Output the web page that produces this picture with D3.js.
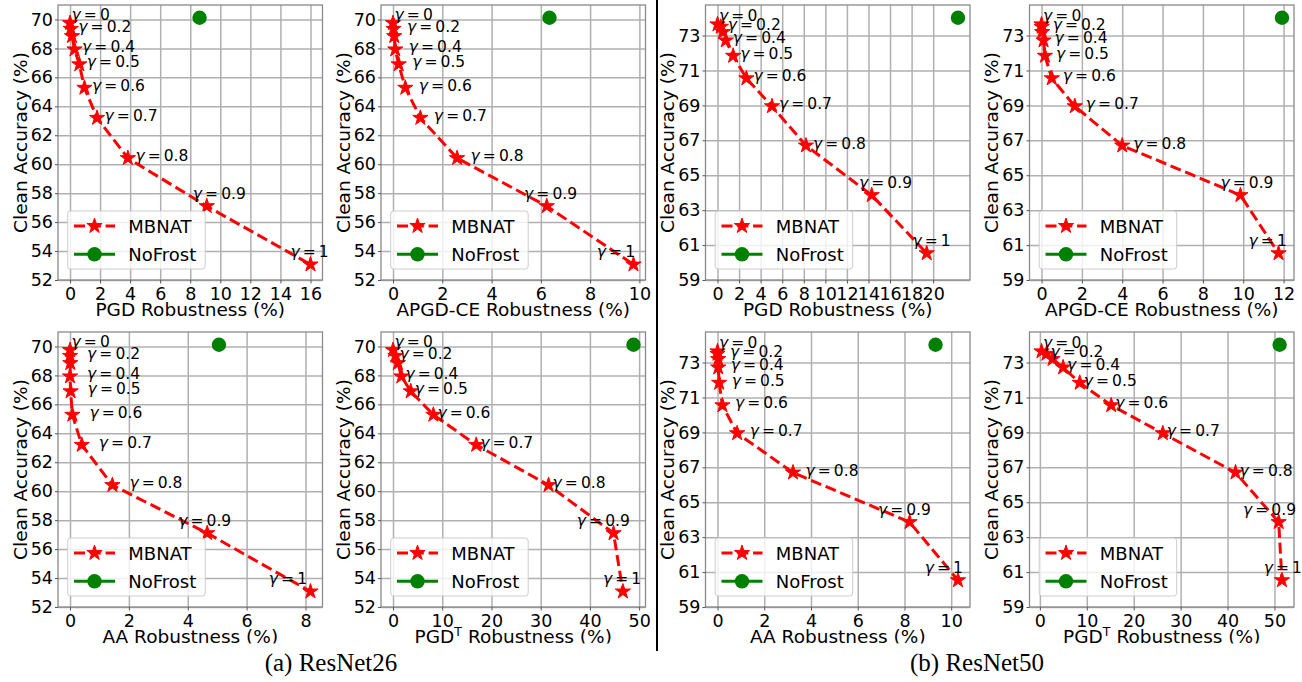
<!DOCTYPE html>
<html>
<head>
<meta charset="utf-8">
<script src="https://cdn.jsdelivr.net/npm/d3@7"></script>
<style>
  body { margin: 0; background: #fff; }
  svg { display: block; font-family: 'DejaVu Sans', sans-serif; }
</style>
</head>
<body>
<svg id="chart" width="1302" height="682"></svg>
<script>
// gamma values of the MBNAT sweep (one point is left unlabelled in the figure)
const gammas = [0, 0.2, 0.3, 0.4, 0.5, 0.6, 0.7, 0.8, 0.9, 1];
const gammaLabels = ['0', '0.2', '', '0.4', '0.5', '0.6', '0.7', '0.8', '0.9', '1'];

// clean accuracy (%)
const r26Clean = [69.75, 69.35, 68.85, 67.93, 66.9, 65.28, 63.2, 60.42, 57.1, 53.07];
const r50Clean = [73.64, 73.5, 73.2, 72.72, 71.84, 70.55, 68.95, 66.7, 63.86, 60.53];
const r26NoFrostClean = 70.12;
const r50NoFrostClean = 74.02;

// robustness (%) of MBNAT
const r26Pgd = [0.0, 0.05, 0.13, 0.3, 0.62, 0.96, 1.8, 3.85, 9.1, 16.0];
const r26Apgd = [0.0, 0.02, 0.05, 0.09, 0.23, 0.5, 1.11, 2.6, 6.24, 9.76];
const r26Aa = [0.0, 0.0, 0.01, 0.0, 0.02, 0.08, 0.4, 1.44, 4.66, 8.17];
const r26PgdT = [0.0, 0.5, 1.0, 1.7, 3.6, 8.2, 16.9, 31.6, 44.8, 46.7];
const r50Pgd = [0.0, 0.3, 0.5, 0.77, 1.45, 2.68, 5.05, 8.2, 14.3, 19.4];
const r50Apgd = [0.0, 0.01, 0.03, 0.1, 0.17, 0.51, 1.65, 4.0, 9.86, 11.75];
const r50Aa = [0.0, 0.0, 0.03, 0.03, 0.07, 0.21, 0.84, 3.23, 8.22, 10.29];
const r50PgdT = [0.35, 1.4, 2.7, 4.95, 8.5, 15.2, 26.2, 41.7, 50.9, 51.6];

// robustness (%) of NoFrost: PGD, APGD-CE, AA, PGD^T
const r26NoFrost = [8.62, 6.35, 5.06, 48.85];
const r50NoFrost = [22.3, 11.92, 9.33, 51.1];

// tick labels
const r26YTicks = [52, 54, 56, 58, 60, 62, 64, 66, 68, 70];
const r50YTicks = [59, 61, 63, 65, 67, 69, 71, 73];
const r26YLim = [52, 71];
const r50YLim = [59, 74.75];
const ticksTo8 = [0, 2, 4, 6, 8];
const ticksTo10 = [0, 2, 4, 6, 8, 10];
const ticksTo12 = [0, 2, 4, 6, 8, 10, 12];
const ticksTo16 = [0, 2, 4, 6, 8, 10, 12, 14, 16];
const ticksTo20 = [0, 2, 4, 6, 8, 10, 12, 14, 16, 18, 20];
const ticksTo50 = [0, 10, 20, 30, 40, 50];

const svg = d3.select('#chart');
const colX = [58, 381, 705.5, 1029.5];
const rowY = [5, 332];
const plotW = 264.5;
const plotH = 275;

// clip each row so the x labels are cut like in the source figure
const defs = svg.append('defs');
defs.append('clipPath').attr('id', 'row-0')
  .append('rect').attr('x', 0).attr('y', 0).attr('width', 1302).attr('height', 320);
defs.append('clipPath').attr('id', 'row-1')
  .append('rect').attr('x', 0).attr('y', 320).attr('width', 1302).attr('height', 323.5);

const panels = [
  { row: 0, col: 0, x: r26Pgd, nf: r26NoFrost[0], clean: r26Clean, nfClean: r26NoFrostClean,
    ylim: r26YLim, yTicks: r26YTicks, xTicks: ticksTo16, label: 'PGD', dx: 7.5, left: [-14, -20] },
  { row: 0, col: 1, x: r26Apgd, nf: r26NoFrost[1], clean: r26Clean, nfClean: r26NoFrostClean,
    ylim: r26YLim, yTicks: r26YTicks, xTicks: ticksTo10, label: 'APGD-CE', dx: 13.5, left: [-22.7, -36.7] },
  { row: 0, col: 2, x: r50Pgd, nf: r50NoFrost[0], clean: r50Clean, nfClean: r50NoFrostClean,
    ylim: r50YLim, yTicks: r50YTicks, xTicks: ticksTo20, label: 'PGD', dx: 7, left: [-12.7, -14.3] },
  { row: 0, col: 3, x: r50Apgd, nf: r50NoFrost[1], clean: r50Clean, nfClean: r50NoFrostClean,
    ylim: r50YLim, yTicks: r50YTicks, xTicks: ticksTo12, label: 'APGD-CE', dx: 11, left: [-20, -30] },
  { row: 1, col: 0, x: r26Aa, nf: r26NoFrost[2], clean: r26Clean, nfClean: r26NoFrostClean,
    ylim: r26YLim, yTicks: r26YTicks, xTicks: ticksTo8, label: 'AA', dx: 17, left: [-29, -41.7] },
  { row: 1, col: 1, x: r26PgdT, nf: r26NoFrost[3], clean: r26Clean, nfClean: r26NoFrostClean,
    ylim: r26YLim, yTicks: r26YTicks, xTicks: ticksTo50, label: 'PGDT', dx: 4, left: [-36.7, -20] },
  { row: 1, col: 2, x: r50Aa, nf: r50NoFrost[2], clean: r50Clean, nfClean: r50NoFrostClean,
    ylim: r50YLim, yTicks: r50YTicks, xTicks: ticksTo10, label: 'AA', dx: 12.5, left: [-31.7, -33.3] },
  { row: 1, col: 3, x: r50PgdT, nf: r50NoFrost[3], clean: r50Clean, nfClean: r50NoFrostClean,
    ylim: r50YLim, yTicks: r50YTicks, xTicks: ticksTo50, label: 'PGDT', dx: 4, left: [-35.7, -18.3] }
];

const star = d3.symbol(d3.symbolStar, 72);

function drawPanel(p) {
  const left = colX[p.col];
  const top = rowY[p.row];
  const bottom = top + plotH;

  // matplotlib-like 5% autoscale margin on x
  const [xmin, xmax] = d3.extent(p.x.concat([p.nf]));
  const pad = (xmax - xmin) * 0.05;
  const x = d3.scaleLinear().domain([xmin - pad, xmax + pad]).range([left, left + plotW]);
  const y = d3.scaleLinear().domain(p.ylim).range([bottom, top]);

  const g = svg.append('g').attr('clip-path', `url(#row-${p.row})`);

  // grid
  g.append('g')
    .attr('transform', `translate(0,${bottom})`)
    .call(d3.axisBottom(x).tickValues(p.xTicks).tickSize(-plotH).tickFormat(''))
    .call((a) => a.select('.domain').remove())
    .selectAll('line').attr('stroke', '#b0b0b0').attr('stroke-width', 1.5);
  g.append('g')
    .attr('transform', `translate(${left},0)`)
    .call(d3.axisLeft(y).tickValues(p.yTicks).tickSize(-plotW).tickFormat(''))
    .call((a) => a.select('.domain').remove())
    .selectAll('line').attr('stroke', '#b0b0b0').attr('stroke-width', 1.5);

  // frame
  g.append('rect')
    .attr('x', left).attr('y', top)
    .attr('width', plotW).attr('height', plotH)
    .attr('fill', 'none')
    .attr('stroke', '#8a8a8a')
    .attr('stroke-width', 1.3);

  // tick labels
  const xAxis = g.append('g')
    .attr('transform', `translate(0,${bottom})`)
    .call(d3.axisBottom(x).tickValues(p.xTicks).tickSize(3.5).tickPadding(4.5).tickFormat(d3.format('d')));
  const yAxis = g.append('g')
    .attr('transform', `translate(${left},0)`)
    .call(d3.axisLeft(y).tickValues(p.yTicks).tickSize(3).tickPadding(2).tickFormat(d3.format('d')));
  [xAxis, yAxis].forEach((a) => {
    a.select('.domain').remove();
    a.selectAll('line').attr('stroke', '#555');
    a.selectAll('text')
      .attr('fill', '#000')
      .style('font-family', "'DejaVu Sans', sans-serif")
      .style('font-size', '17.5px');
  });

  // axis titles
  const xl = g.append('text')
    .attr('x', left + plotW / 2)
    .attr('y', bottom + 36)
    .attr('text-anchor', 'middle')
    .style('font-size', '18.5px');
  if (p.label === 'PGDT') {
    xl.append('tspan').text('PGD');
    xl.append('tspan').text('T').attr('dy', -7).style('font-size', '12.5px');
    xl.append('tspan').text(' Robustness (%)').attr('dy', 7);
  } else {
    xl.text(`${p.label} Robustness (%)`);
  }
  g.append('text')
    .attr('transform', `translate(${left - 38},${top + plotH / 2}) rotate(-90)`)
    .attr('text-anchor', 'middle')
    .attr('dominant-baseline', 'central')
    .style('font-size', '18.5px')
    .text('Clean Accuracy (%)');

  // MBNAT dashed line with stars
  const pts = p.x.map((v, i) => ({ rx: v, acc: p.clean[i], gamma: gammas[i], lab: gammaLabels[i] }));
  g.append('path')
    .datum(pts)
    .attr('d', d3.line().x((d) => x(d.rx)).y((d) => y(d.acc)))
    .attr('fill', 'none')
    .attr('stroke', '#ff0000')
    .attr('stroke-width', 3)
    .attr('stroke-dasharray', '11,4.8');
  g.append('g').selectAll('path')
    .data(pts)
    .join('path')
    .attr('d', star)
    .attr('transform', (d) => `translate(${x(d.rx)},${y(d.acc)})`)
    .attr('fill', '#ff0000')
    .attr('stroke', '#ff0000')
    .attr('stroke-width', 1);

  // NoFrost point
  g.append('circle')
    .attr('cx', x(p.nf))
    .attr('cy', y(p.nfClean))
    .attr('r', 7.2)
    .attr('fill', '#008000');

  // gamma annotations
  pts.forEach((d) => {
    if (!d.lab) return;
    let ox = p.dx;
    let oy = -2;
    if (d.gamma === 0) { ox = 1.5; oy = -8.5; }
    if (d.gamma === 0.9) { ox = p.left[0]; oy = -12.5; }
    if (d.gamma === 1) { ox = p.left[1]; oy = -12.5; }
    const t = g.append('text')
      .attr('x', x(d.rx) + ox)
      .attr('y', y(d.acc) + oy)
      .attr('dominant-baseline', 'central')
      .style('font-size', '15.5px');
    t.append('tspan').text('\u03b3').style('font-style', 'italic');
    t.append('tspan').text(`\u2009=\u2009${d.lab}`);
  });

  // legend
  const lx = left + 9.7;
  const ly = bottom - 11 - 58;
  const lg = g.append('g');
  lg.append('rect')
    .attr('x', lx).attr('y', ly)
    .attr('width', 137.5).attr('height', 58)
    .attr('rx', 3)
    .attr('fill', 'rgba(255,255,255,0.8)')
    .attr('stroke', '#cccccc')
    .attr('stroke-width', 1);
  const r1 = ly + 15;
  const r2 = ly + 43.3;
  lg.append('line')
    .attr('x1', lx + 6.3).attr('x2', lx + 47.3)
    .attr('y1', r1).attr('y2', r1)
    .attr('stroke', '#ff0000').attr('stroke-width', 3)
    .attr('stroke-dasharray', '11,4.8');
  lg.append('path')
    .attr('d', star)
    .attr('transform', `translate(${lx + 26.8},${r1})`)
    .attr('fill', '#ff0000').attr('stroke', '#ff0000');
  lg.append('line')
    .attr('x1', lx + 6.3).attr('x2', lx + 47.3)
    .attr('y1', r2).attr('y2', r2)
    .attr('stroke', '#008000').attr('stroke-width', 3);
  lg.append('circle')
    .attr('cx', lx + 26.8).attr('cy', r2).attr('r', 7.2)
    .attr('fill', '#008000');
  [['MBNAT', r1], ['NoFrost', r2]].forEach(([name, ry]) => {
    lg.append('text')
      .attr('x', lx + 60.6)
      .attr('y', ry)
      .attr('dominant-baseline', 'central')
      .style('font-size', '18px')
      .text(name);
  });
}

panels.forEach(drawPanel);

// divider between the two sub-figures
svg.append('line')
  .attr('x1', 657).attr('x2', 657)
  .attr('y1', 0).attr('y2', 651)
  .attr('stroke', '#000')
  .attr('stroke-width', 2);

// captions
[['(a) ResNet26', 331], ['(b) ResNet50', 977]].forEach(([txt, cx]) => {
  svg.append('text')
    .attr('x', cx)
    .attr('y', 671)
    .attr('text-anchor', 'middle')
    .style('font-family', "'Liberation Serif', 'Times New Roman', serif")
    .style('font-size', '25px')
    .text(txt);
});
</script>
</body>
</html>
